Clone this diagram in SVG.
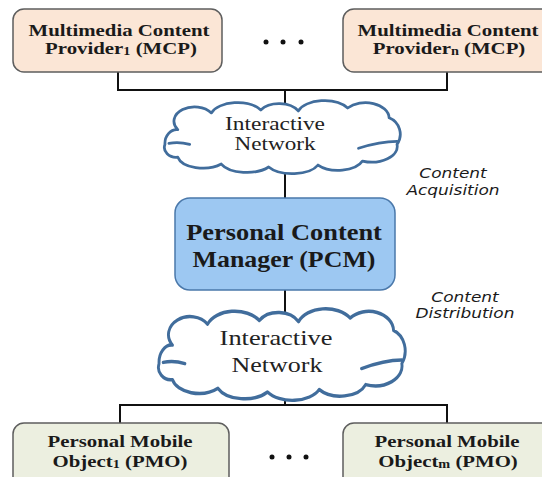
<svg xmlns="http://www.w3.org/2000/svg" width="542" height="477" viewBox="0 0 542 477">
  <defs>
    <style>
      .bg { fill: #ffffff; }
      .mcp { fill: #fbe6d6; stroke: #5e5e5e; stroke-width: 1.5; }
      .pmo { fill: #ecefe0; stroke: #5e5e5e; stroke-width: 1.5; }
      .pcm { fill: #9dc8f2; stroke: #4a78aa; stroke-width: 1.5; }
      .cloud { fill: #ffffff; stroke: #416d9c; stroke-width: 2.8; vector-effect: non-scaling-stroke; stroke-linejoin: round; }
      .curl { fill: none; stroke: #416d9c; stroke-width: 2.8; vector-effect: non-scaling-stroke; stroke-linecap: round; }
      .wire { fill: none; stroke: #111111; stroke-width: 2; }
      .dot { fill: #111111; }
      .title { font-family: "Liberation Serif", "Times New Roman", serif; font-weight: bold; font-size: 17.5px; fill: #1a1a1a; text-anchor: middle; }
      .big { font-family: "Liberation Serif", "Times New Roman", serif; font-weight: bold; font-size: 24px; fill: #1a1a1a; text-anchor: middle; }
      .net { font-family: "Liberation Serif", "Times New Roman", serif; fill: #222222; text-anchor: middle; }
      .flow { font-family: "DejaVu Sans", Verdana, sans-serif; font-style: italic; font-size: 14.5px; fill: #1a1a1a; text-anchor: middle; }
    </style>
    <!-- cloud outline in a 240 x 60 local box -->
    <path id="cloudShape" d="M 15,22 A 20,14 0 0 1 49,5 A 28,16 0 0 1 99,2 A 22,14 0 0 1 137,3 A 28,16 0 0 1 187,0 A 24,16 0 0 1 229,10 A 18,18 0 0 1 237,37 A 26,16 0 0 1 202,54 A 26,14 0 0 1 157,58 A 28,14 0 0 1 107,60 A 28,14 0 0 1 59,57 A 26,14 0 0 1 15,50 A 12,10 0 0 1 2,37 A 12,14 0 0 1 15,22 Z"/>
    <path id="cloudCurls" d="M 6,36 Q 16,34 27,37 M 198,41 Q 220,34 237,34"/>
  </defs>

  <rect class="bg" x="0" y="0" width="542" height="477"/>

  <!-- connectors -->
  <g id="connectors">
    <path class="wire" d="M118,72 V90 H447 V72"/>
    <path class="wire" d="M285,90 V198"/>
    <path class="wire" d="M285,290 V405"/>
    <path class="wire" d="M120,423 V405 H447 V423"/>
  </g>

  <!-- content providers -->
  <g id="mcp1">
    <rect class="mcp" x="13" y="9" width="209" height="63" rx="11"/>
    <text class="title" transform="translate(119 0) scale(1.19 1)" x="0" y="36">Multimedia Content</text>
    <text class="title" transform="translate(121 0) scale(1.19 1)" x="0" y="54">Provider<tspan font-size="12" dy="1">1</tspan><tspan dy="-1"> (MCP)</tspan></text>
  </g>
  <g id="mcpDots">
    <circle class="dot" cx="266" cy="42" r="2.5"/>
    <circle class="dot" cx="283" cy="42" r="2.5"/>
    <circle class="dot" cx="301" cy="42" r="2.5"/>
  </g>
  <g id="mcpN">
    <rect class="mcp" x="343" y="9" width="215" height="63" rx="11"/>
    <text class="title" transform="translate(448 0) scale(1.19 1)" x="0" y="36">Multimedia Content</text>
    <text class="title" transform="translate(449 0) scale(1.19 1)" x="0" y="54">Provider<tspan font-size="12" dy="1">n</tspan><tspan dy="-1"> (MCP)</tspan></text>
  </g>

  <!-- upper network -->
  <g id="netUpper">
    <g transform="translate(163 108) scale(0.9875 0.983)">
      <use href="#cloudShape" class="cloud"/>
      <use href="#cloudCurls" class="curl"/>
    </g>
    <text class="net" font-size="19" transform="translate(275 0) scale(1.23 1)" x="0" y="130.5">Interactive</text>
    <text class="net" font-size="19" transform="translate(275 0) scale(1.22 1)" x="0" y="150.5">Network</text>
  </g>

  <g id="labelAcquisition">
    <text class="flow" transform="translate(453 0) scale(1.17 1)" x="0" y="178">Content</text>
    <text class="flow" transform="translate(453 0) scale(1.17 1)" x="0" y="195">Acquisition</text>
  </g>

  <!-- personal content manager -->
  <g id="pcm">
    <rect class="pcm" x="175" y="198" width="220" height="92" rx="15"/>
    <text class="big" transform="translate(284 0) scale(1.1 1)" x="0" y="240">Personal Content</text>
    <text class="big" transform="translate(284 0) scale(1.08 1)" x="0" y="267">Manager (PCM)</text>
  </g>

  <g id="labelDistribution">
    <text class="flow" transform="translate(465 0) scale(1.17 1)" x="0" y="302">Content</text>
    <text class="flow" transform="translate(465 0) scale(1.17 1)" x="0" y="318">Distribution</text>
  </g>

  <!-- lower network -->
  <g id="netLower">
    <g transform="translate(157 318) scale(1.033 1.233)">
      <use href="#cloudShape" class="cloud"/>
      <use href="#cloudCurls" class="curl"/>
    </g>
    <text class="net" font-size="22" transform="translate(276 0) scale(1.2 1)" x="0" y="345">Interactive</text>
    <text class="net" font-size="22" transform="translate(277 0) scale(1.18 1)" x="0" y="372">Network</text>
  </g>

  <!-- personal mobile objects -->
  <g id="pmo1">
    <rect class="pmo" x="13" y="423" width="216" height="70" rx="11"/>
    <text class="title" transform="translate(120 0) scale(1.19 1)" x="0" y="447">Personal Mobile</text>
    <text class="title" transform="translate(120 0) scale(1.19 1)" x="0" y="467">Object<tspan font-size="12" dy="1">1</tspan><tspan dy="-1"> (PMO)</tspan></text>
  </g>
  <g id="pmoDots">
    <circle class="dot" cx="272" cy="457" r="2.5"/>
    <circle class="dot" cx="289" cy="457" r="2.5"/>
    <circle class="dot" cx="306" cy="457" r="2.5"/>
  </g>
  <g id="pmoM">
    <rect class="pmo" x="343" y="423" width="215" height="70" rx="11"/>
    <text class="title" transform="translate(447 0) scale(1.19 1)" x="0" y="447">Personal Mobile</text>
    <text class="title" transform="translate(448 0) scale(1.19 1)" x="0" y="467">Object<tspan font-size="12" dy="1">m</tspan><tspan dy="-1"> (PMO)</tspan></text>
  </g>
</svg>
